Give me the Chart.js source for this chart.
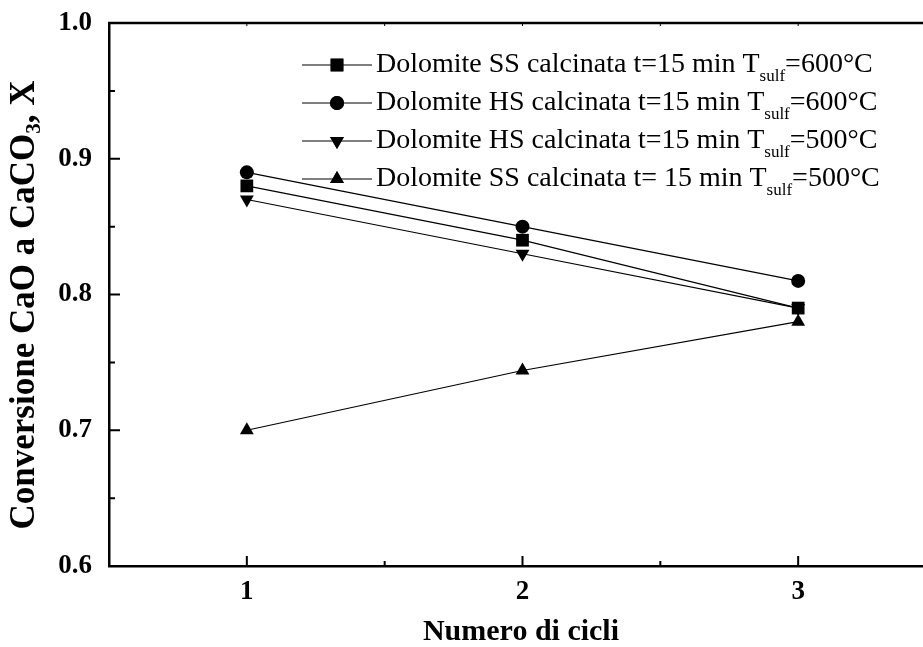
<!DOCTYPE html>
<html>
<head>
<meta charset="utf-8">
<script src="https://cdn.jsdelivr.net/npm/chart.js@4/dist/chart.umd.min.js"></script>
<style>
  html, body { margin: 0; padding: 0; background: #fff; overflow: hidden; }
  #wrap { position: relative; width: 945px; height: 647px; }
</style>
</head>
<body>
<div id="wrap"><canvas id="chart" width="945" height="647"></canvas></div>
<script>
// Dati
const cicli = [1, 2, 3];
const ssCalc600 = [0.88, 0.84, 0.79];
const hsCalc600 = [0.89, 0.85, 0.81];
const hsCalc500 = [0.87, 0.83, 0.79];
const ssCalc500 = [0.70, 0.744, 0.78];

const xTicks = [1, 2, 3];
const xMinor = [1.5, 2.5];
const yTicks = [0.6, 0.7, 0.8, 0.9, 1.0];
const yMinor = [0.65, 0.75, 0.85, 0.95];

const legendHead = [
  'Dolomite SS calcinata t=15 min T',
  'Dolomite HS calcinata t=15 min T',
  'Dolomite HS calcinata t=15 min T',
  'Dolomite SS calcinata t= 15 min T',
];
const legendSub = 'sulf';
const legendTail = ['=600°C', '=600°C', '=500°C', '=500°C'];

const serif = "'Liberation Serif', 'Times New Roman', serif";

function toPoints(values) {
  return values.map((v, i) => ({ x: cicli[i], y: v }));
}

const series = [
  { data: ssCalc600, style: 'rect', rotation: 0, r: 9 },
  { data: hsCalc600, style: 'circle', rotation: 0, r: 7 },
  { data: hsCalc500, style: 'triangle', rotation: 180, r: 8 },
  { data: ssCalc500, style: 'triangle', rotation: 0, r: 8 },
];

// Cornice, tacche interne, legenda e titoli degli assi
const decorations = {
  id: 'decorations',
  afterDraw(chart) {
    const { ctx, chartArea: { top, bottom, left, right } } = chart;
    const xs = chart.scales.x;
    const ys = chart.scales.y;
    ctx.save();
    ctx.strokeStyle = '#000';

    // linea superiore
    ctx.lineWidth = 2.5;
    ctx.beginPath();
    ctx.moveTo(left - 1, top);
    ctx.lineTo(right, top);
    ctx.stroke();

    // tacche
    ctx.lineWidth = 2;
    ctx.beginPath();
    yTicks.forEach((v) => {
      const y = ys.getPixelForValue(v);
      ctx.moveTo(left, y);
      ctx.lineTo(left + 11, y);
    });
    yMinor.forEach((v) => {
      const y = ys.getPixelForValue(v);
      ctx.moveTo(left, y);
      ctx.lineTo(left + 6, y);
    });
    xTicks.forEach((v) => {
      const x = xs.getPixelForValue(v);
      ctx.moveTo(x, bottom);
      ctx.lineTo(x, bottom - 10);
    });
    xMinor.forEach((v) => {
      const x = xs.getPixelForValue(v);
      ctx.moveTo(x, bottom);
      ctx.lineTo(x, bottom - 5);
    });
    ctx.stroke();

    ctx.lineWidth = 1;
    ctx.beginPath();
    xTicks.concat(xMinor).forEach((v) => {
      const x = xs.getPixelForValue(v);
      ctx.moveTo(x, top);
      ctx.lineTo(x, top + 3);
    });
    ctx.stroke();

    // legenda
    const lx = 302;
    const ly = 65;
    const rowH = 38;
    legendHead.forEach((txt, i) => {
      const y = ly + i * rowH;
      ctx.strokeStyle = '#000';
      ctx.lineWidth = 1.2;
      ctx.beginPath();
      ctx.moveTo(lx, y);
      ctx.lineTo(lx + 70, y);
      ctx.stroke();
      Chart.helpers.drawPoint(ctx, {
        pointStyle: series[i].style,
        rotation: series[i].rotation,
        radius: series[i].r,
        borderWidth: 0,
      }, lx + 35, y);
      ctx.fillStyle = '#000';
      ctx.fill();

      ctx.textBaseline = 'middle';
      ctx.textAlign = 'left';
      ctx.font = `28px ${serif}`;
      let tx = lx + 74;
      ctx.fillText(txt, tx, y);
      tx += ctx.measureText(txt).width;
      ctx.font = `17px ${serif}`;
      ctx.fillText(legendSub, tx, y + 12);
      tx += ctx.measureText(legendSub).width;
      ctx.font = `28px ${serif}`;
      ctx.fillText(legendTail[i], tx, y);
    });

    // titolo asse X
    ctx.font = `bold 30px ${serif}`;
    ctx.textAlign = 'center';
    ctx.textBaseline = 'middle';
    ctx.fillText('Numero di cicli', 521, 632);

    // titolo asse Y (con pedice)
    ctx.translate(25, 305);
    ctx.rotate(-Math.PI / 2);
    const partA = 'Conversione CaO a CaCO';
    const partSub = '3';
    const partB = ', X';
    const big = `bold 35px ${serif}`;
    const small = `bold 21px ${serif}`;
    ctx.font = big;
    const wA = ctx.measureText(partA).width;
    const wB = ctx.measureText(partB).width;
    ctx.font = small;
    const wS = ctx.measureText(partSub).width;
    let sx = -(wA + wS + wB) / 2;
    ctx.textAlign = 'left';
    ctx.font = big;
    ctx.fillText(partA, sx, 0);
    sx += wA;
    ctx.font = small;
    ctx.fillText(partSub, sx, 10);
    sx += wS;
    ctx.font = big;
    ctx.fillText(partB, sx, 0);
    ctx.restore();
  },
};

new Chart(document.getElementById('chart'), {
  type: 'line',
  data: {
    datasets: series.map((s) => ({
      data: toPoints(s.data),
      borderColor: '#000',
      borderWidth: 1.2,
      backgroundColor: '#000',
      pointBackgroundColor: '#000',
      pointBorderColor: '#000',
      pointBorderWidth: 0,
      pointStyle: s.style,
      rotation: s.rotation,
      pointRadius: s.r,
      tension: 0,
      fill: false,
    })),
  },
  options: {
    responsive: false,
    animation: false,
    maintainAspectRatio: false,
    layout: { padding: { top: 23, right: 0, left: 0, bottom: 0 } },
    plugins: {
      legend: { display: false },
      tooltip: { enabled: false },
    },
    scales: {
      x: {
        type: 'linear',
        min: 0.5,
        max: 3.5,
        afterBuildTicks: (scale) => {
          scale.ticks = xTicks.map((v) => ({ value: v }));
        },
        afterFit: (scale) => {
          scale.height = 81;
          scale.paddingLeft = 0;
          scale.paddingRight = 0;
        },
        grid: { display: false },
        border: { display: true, color: '#000', width: 2.5 },
        ticks: {
          padding: 2,
          color: '#000',
          callback: (v) => String(v),
          font: { family: serif, size: 27, weight: 'bold' },
        },
      },
      y: {
        min: 0.6,
        max: 1.0,
        afterBuildTicks: (scale) => {
          scale.ticks = yTicks.map((v) => ({ value: v }));
        },
        afterFit: (scale) => {
          scale.width = 109;
          scale.paddingTop = 0;
          scale.paddingBottom = 0;
        },
        grid: { display: false },
        border: { display: true, color: '#000', width: 2.5 },
        ticks: {
          padding: 9,
          color: '#000',
          callback: (v) => Number(v).toFixed(1),
          font: { family: serif, size: 27, weight: 'bold' },
        },
      },
    },
  },
  plugins: [decorations],
});
</script>
</body>
</html>
